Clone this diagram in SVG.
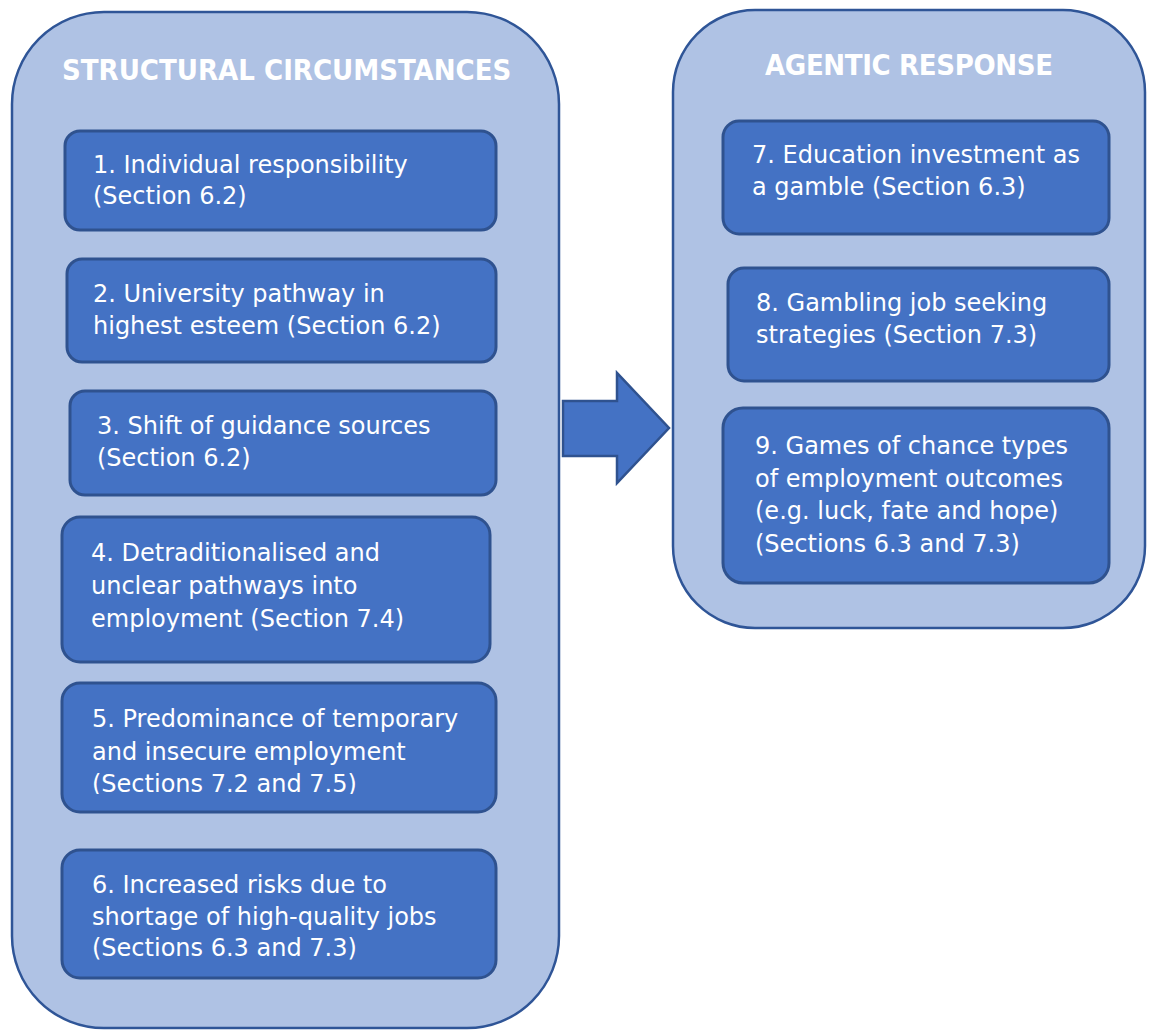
<svg xmlns="http://www.w3.org/2000/svg" width="1151" height="1030" viewBox="0 0 1151 1030">
<style>
.cont{fill:#AFC2E4;stroke:#2F5597;stroke-width:2.5}
.box{fill:#4472C4;stroke:#2F528F;stroke-width:3}
.title{font-family:"DejaVu Sans Condensed","DejaVu Sans",sans-serif;font-weight:bold;font-size:29px;fill:#FFFFFF}
.t{font-family:"DejaVu Sans","Verdana",sans-serif;font-size:24px;fill:#FFFFFF}
</style>
<defs>
<clipPath id="clip5"><rect x="62" y="683" width="434" height="111"/></clipPath>
</defs>
<rect width="1151" height="1030" fill="#FFFFFF"/>
<g id="structural">
<rect class="cont" x="12" y="12" width="547" height="1016" rx="92" ry="92"/>
<text class="title" x="62" y="80">STRUCTURAL CIRCUMSTANCES</text>
</g>
<g id="agentic">
<rect class="cont" x="673" y="10" width="472" height="618" rx="82" ry="82"/>
<text class="title" x="765" y="75" textLength="288">AGENTIC RESPONSE</text>
</g>
<g id="n1">
<rect class="box" x="65" y="131" width="431" height="99" rx="15"/>
<text class="t" x="93" y="173">1. Individual responsibility</text>
<text class="t" x="93" y="204">(Section 6.2)</text>
</g>
<g id="n2">
<rect class="box" x="67" y="259" width="429" height="103" rx="15"/>
<text class="t" x="93" y="302">2. University pathway in</text>
<text class="t" x="93" y="334">highest esteem (Section 6.2)</text>
</g>
<g id="n3">
<rect class="box" x="70" y="391" width="426" height="104" rx="15"/>
<text class="t" x="97" y="434">3. Shift of guidance sources</text>
<text class="t" x="97" y="466">(Section 6.2)</text>
</g>
<g id="n4">
<rect class="box" x="62" y="517" width="428" height="145" rx="18"/>
<text class="t" x="91" y="561">4. Detraditionalised and</text>
<text class="t" x="91" y="594">unclear pathways into</text>
<text class="t" x="91" y="627">employment (Section 7.4)</text>
</g>
<g id="n5">
<rect class="box" x="62" y="683" width="434" height="129" rx="18"/>
<text class="t" x="92" y="727">5. Predominance of temporary</text>
<text class="t" x="92" y="760">and insecure employment</text>
<text class="t" x="92" y="792" clip-path="url(#clip5)">(Sections 7.2 and 7.5)</text>
</g>
<g id="n6">
<rect class="box" x="62" y="850" width="434" height="128" rx="18"/>
<text class="t" x="92" y="893">6. Increased risks due to</text>
<text class="t" x="92" y="925">shortage of high-quality jobs</text>
<text class="t" x="92" y="956">(Sections 6.3 and 7.3)</text>
</g>
<g id="n7">
<rect class="box" x="723" y="121" width="386" height="113" rx="16"/>
<text class="t" x="752" y="163">7. Education investment as</text>
<text class="t" x="752" y="195">a gamble (Section 6.3)</text>
</g>
<g id="n8">
<rect class="box" x="728" y="268" width="381" height="113" rx="16"/>
<text class="t" x="756" y="311">8. Gambling job seeking</text>
<text class="t" x="756" y="343">strategies (Section 7.3)</text>
</g>
<g id="n9">
<rect class="box" x="723" y="408" width="386" height="175" rx="20"/>
<text class="t" x="755" y="454">9. Games of chance types</text>
<text class="t" x="755" y="487">of employment outcomes</text>
<text class="t" x="755" y="519">(e.g. luck, fate and hope)</text>
<text class="t" x="755" y="552">(Sections 6.3 and 7.3)</text>
</g>
<g id="connectors">
<polygon points="563,401 617,401 617,373 669,428 617,483 617,456 563,456" fill="#4472C4" stroke="#2F528F" stroke-width="2.5"/>
</g>
</svg>
